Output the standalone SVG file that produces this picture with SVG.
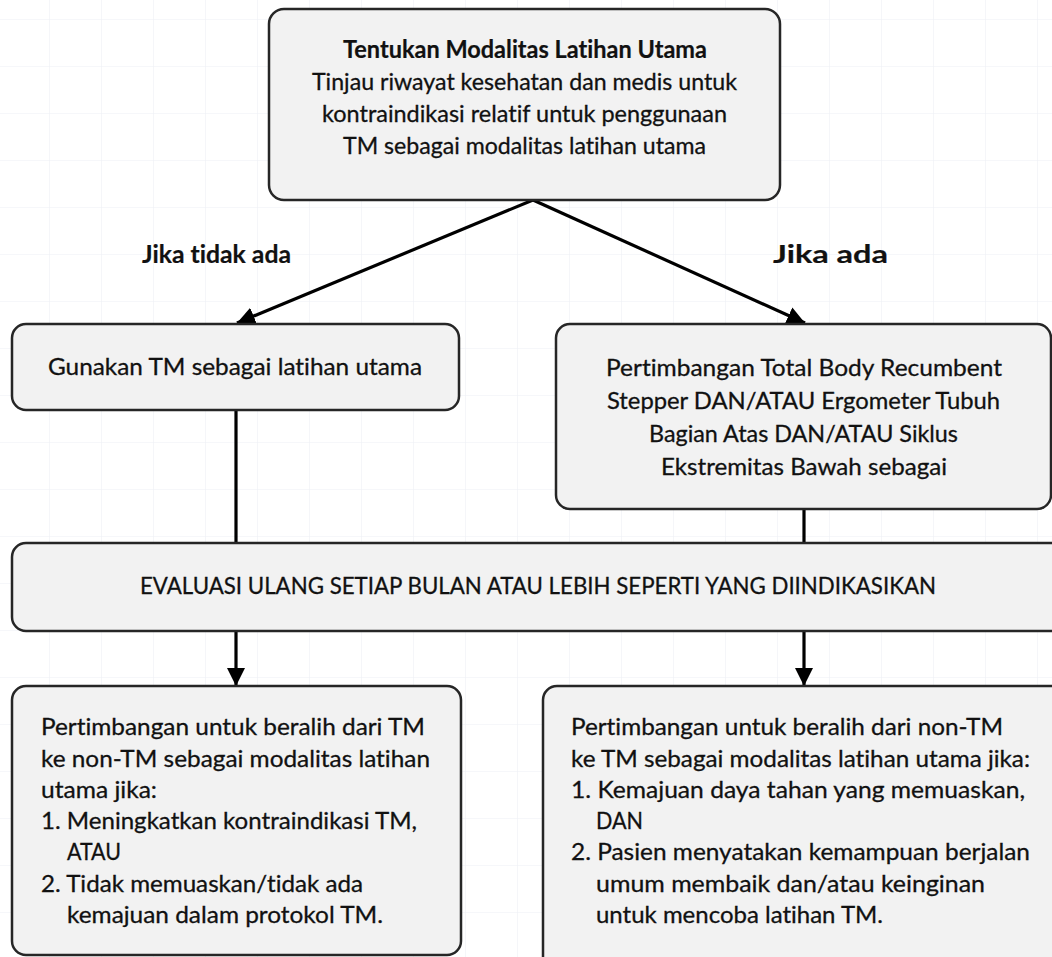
<svg xmlns="http://www.w3.org/2000/svg" width="1052" height="957" viewBox="0 0 1052 957">
  <defs>
    <pattern id="grid" x="-2" y="19" width="52" height="47" patternUnits="userSpaceOnUse">
      <path d="M52 0V47M0 0H52" fill="none" stroke="#eef0f5" stroke-width="1.2"/>
    </pattern>
    <marker id="arrow" viewBox="0 0 18 18" refX="18" refY="9" markerWidth="18" markerHeight="18" markerUnits="userSpaceOnUse" orient="auto">
      <path d="M0 0L18 9L0 18Z" fill="#000"/>
    </marker>
  </defs>
  <style>
    .box { fill: #f2f2f2; stroke: #262626; stroke-width: 2.5; }
    .t { font-family: Lato, "Open Sans", "Liberation Sans", sans-serif; font-size: 24px; font-variant-ligatures: none; fill: #111; stroke: #111; stroke-width: 0.3; }
    .c { text-anchor: middle; }
    .b { font-weight: bold; stroke-width: 0.2; }
    .link { fill: none; stroke: #000; stroke-width: 3.2; }
  </style>

  <rect width="1052" height="957" fill="#fff"/>
  <rect width="1052" height="957" fill="url(#grid)"/>

  <!-- connectors -->
  <g id="connectors">
    <path class="link" d="M533 200L237 323" marker-end="url(#arrow)"/>
    <path class="link" d="M533 200L805 323" marker-end="url(#arrow)"/>
    <path class="link" d="M236 410V543"/>
    <path class="link" d="M804 509V543"/>
    <path class="link" d="M236 631V686" marker-end="url(#arrow)"/>
    <path class="link" d="M804 631V686" marker-end="url(#arrow)"/>
  </g>

  <!-- branch labels -->
  <g id="label-tidak-ada">
    <text class="t b c" x="216.5" y="263" textLength="149" lengthAdjust="spacingAndGlyphs">Jika tidak ada</text>
  </g>
  <g id="label-ada">
    <text class="t b c" x="830.5" y="263" textLength="115" lengthAdjust="spacingAndGlyphs">Jika ada</text>
  </g>

  <g id="node-start">
    <rect class="box" x="269" y="9" width="511" height="191" rx="15"/>
    <text class="t b c" x="525" y="58" textLength="364" lengthAdjust="spacingAndGlyphs">Tentukan Modalitas Latihan Utama</text>
    <text class="t c" x="524.5" y="90" textLength="425" lengthAdjust="spacingAndGlyphs">Tinjau riwayat kesehatan dan medis untuk</text>
    <text class="t c" x="524.5" y="122" textLength="405" lengthAdjust="spacingAndGlyphs">kontraindikasi relatif untuk penggunaan</text>
    <text class="t c" x="524.5" y="154" textLength="363" lengthAdjust="spacingAndGlyphs">TM sebagai modalitas latihan utama</text>
  </g>

  <g id="node-tm">
    <rect class="box" x="12" y="324" width="447" height="86" rx="14"/>
    <text class="t c" x="235" y="375" textLength="374" lengthAdjust="spacingAndGlyphs">Gunakan TM sebagai latihan utama</text>
  </g>

  <g id="node-alt">
    <rect class="box" x="556" y="324" width="495" height="185" rx="14"/>
    <text class="t c" x="804" y="376" textLength="396" lengthAdjust="spacingAndGlyphs">Pertimbangan Total Body Recumbent</text>
    <text class="t c" x="803.5" y="409" textLength="393" lengthAdjust="spacingAndGlyphs">Stepper DAN/ATAU Ergometer Tubuh</text>
    <text class="t c" x="803.5" y="442" textLength="309" lengthAdjust="spacingAndGlyphs">Bagian Atas DAN/ATAU Siklus</text>
    <text class="t c" x="804" y="475" textLength="286" lengthAdjust="spacingAndGlyphs">Ekstremitas Bawah sebagai</text>
  </g>

  <g id="node-evaluasi">
    <rect class="box" x="12" y="543" width="1060" height="88" rx="14"/>
    <text class="t c" x="538" y="594" textLength="796" lengthAdjust="spacingAndGlyphs">EVALUASI ULANG SETIAP BULAN ATAU LEBIH SEPERTI YANG DIINDIKASIKAN</text>
  </g>

  <g id="node-tm-ke-non-tm">
    <rect class="box" x="12" y="686" width="449" height="269" rx="14"/>
    <text class="t" x="41" y="735" textLength="384" lengthAdjust="spacingAndGlyphs">Pertimbangan untuk beralih dari TM</text>
    <text class="t" x="41" y="767" textLength="389" lengthAdjust="spacingAndGlyphs">ke non-TM sebagai modalitas latihan</text>
    <text class="t" x="41" y="798" textLength="116" lengthAdjust="spacingAndGlyphs">utama jika:</text>
    <text class="t" x="41" y="829" textLength="376" lengthAdjust="spacingAndGlyphs">1. Meningkatkan kontraindikasi TM,</text>
    <text class="t" x="67" y="860" textLength="54" lengthAdjust="spacingAndGlyphs">ATAU</text>
    <text class="t" x="41" y="892" textLength="322" lengthAdjust="spacingAndGlyphs">2. Tidak memuaskan/tidak ada</text>
    <text class="t" x="67" y="923" textLength="316" lengthAdjust="spacingAndGlyphs">kemajuan dalam protokol TM.</text>
  </g>

  <g id="node-non-tm-ke-tm">
    <rect class="box" x="543" y="686" width="530" height="290" rx="14"/>
    <text class="t" x="571" y="735" textLength="432" lengthAdjust="spacingAndGlyphs">Pertimbangan untuk beralih dari non-TM</text>
    <text class="t" x="571" y="767" textLength="459" lengthAdjust="spacingAndGlyphs">ke TM sebagai modalitas latihan utama jika:</text>
    <text class="t" x="571" y="798" textLength="454" lengthAdjust="spacingAndGlyphs">1. Kemajuan daya tahan yang memuaskan,</text>
    <text class="t" x="596" y="829" textLength="47" lengthAdjust="spacingAndGlyphs">DAN</text>
    <text class="t" x="571" y="860" textLength="459" lengthAdjust="spacingAndGlyphs">2. Pasien menyatakan kemampuan berjalan</text>
    <text class="t" x="596" y="892" textLength="389" lengthAdjust="spacingAndGlyphs">umum membaik dan/atau keinginan</text>
    <text class="t" x="596" y="923" textLength="287" lengthAdjust="spacingAndGlyphs">untuk mencoba latihan TM.</text>
  </g>
</svg>
